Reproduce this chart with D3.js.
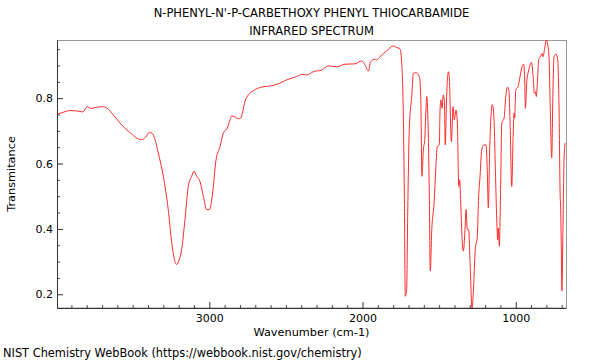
<!DOCTYPE html>
<html>
<head>
<meta charset="utf-8">
<script src="https://cdn.jsdelivr.net/npm/d3@7"></script>
<style>
  body { margin: 0; background: #fff; }
  svg { display: block; font-family: "DejaVu Sans", sans-serif; }
</style>
</head>
<body>
<div id="chart"></div>
<script>
const titleLines = ["N-PHENYL-N'-P-CARBETHOXY PHENYL THIOCARBAMIDE", 'INFRARED SPECTRUM'];
const xTicks = [3000, 2000, 1000];
const yTicks = [0.2, 0.4, 0.6, 0.8];

// wavenumber (cm-1) and transmittance
const wavenumber = [
  3992, 3953, 3909, 3866, 3826, 3796, 3774, 3735, 3702, 3666, 3627, 3583, 3544, 3513, 3474,
  3441, 3415, 3392, 3374, 3354, 3333, 3300, 3268, 3245, 3230, 3213, 3196, 3180, 3159, 3137,
  3115, 3100, 3082, 3061, 3039, 3017, 3000, 2978, 2956, 2930, 2909, 2883, 2865, 2854, 2832,
  2811, 2795, 2782, 2767, 2745, 2713, 2658, 2593, 2539, 2495, 2430, 2397, 2364, 2321, 2266,
  2223, 2168, 2114, 2049, 2005, 1984, 1962, 1947, 1925, 1907, 1886, 1842, 1799, 1781, 1755,
  1744, 1734, 1727, 1721, 1712, 1705, 1695, 1679, 1668, 1651, 1629, 1620, 1612, 1603, 1594,
  1586, 1581, 1573, 1564, 1558, 1548, 1533, 1520, 1512, 1499, 1494, 1488, 1481, 1473, 1466,
  1460, 1451, 1440, 1434, 1420, 1409, 1401, 1390, 1381, 1372, 1366, 1359, 1351, 1342, 1331,
  1324, 1316, 1307, 1298, 1285, 1277, 1264, 1251, 1242, 1233, 1222, 1207, 1194, 1186, 1179,
  1170, 1163, 1153, 1142, 1133, 1124, 1118, 1114, 1107, 1098, 1091, 1076, 1065, 1054, 1045,
  1037, 1026, 1017, 1011, 1007, 1000, 985, 972, 959, 948, 941, 937, 928, 915, 898,
  885, 879, 872, 866, 859, 850, 837, 828, 822, 811, 800, 791, 783, 774, 765,
  758, 750, 737, 726, 717, 710, 708, 703, 699, 692, 684, 677
];
const transmittance = [
  0.751, 0.757, 0.762, 0.761, 0.758, 0.774, 0.769, 0.772, 0.774, 0.769, 0.749, 0.724, 0.705, 0.693, 0.678,
  0.673, 0.681, 0.695, 0.693, 0.673, 0.632, 0.561, 0.459, 0.357, 0.312, 0.291, 0.306, 0.337, 0.428, 0.530,
  0.561, 0.577, 0.561, 0.545, 0.500, 0.459, 0.459, 0.510, 0.612, 0.652, 0.693, 0.708, 0.734, 0.746, 0.742,
  0.737, 0.739, 0.759, 0.790, 0.810, 0.823, 0.834, 0.838, 0.846, 0.856, 0.866, 0.873, 0.871, 0.881, 0.886,
  0.899, 0.896, 0.904, 0.905, 0.914, 0.902, 0.883, 0.912, 0.919, 0.917, 0.927, 0.945, 0.960, 0.956, 0.950,
  0.907, 0.754, 0.500, 0.194, 0.215, 0.449, 0.703, 0.805, 0.876, 0.878, 0.866, 0.805, 0.561, 0.642, 0.673,
  0.764, 0.805, 0.734, 0.500, 0.271, 0.398, 0.479, 0.602, 0.652, 0.657, 0.764, 0.795, 0.769, 0.810, 0.795,
  0.657, 0.805, 0.881, 0.866, 0.667, 0.774, 0.734, 0.764, 0.724, 0.530, 0.550, 0.479, 0.377, 0.332, 0.398,
  0.459, 0.398, 0.398, 0.296, 0.155, 0.205, 0.337, 0.377, 0.500, 0.561, 0.642, 0.657, 0.657, 0.581, 0.464,
  0.642, 0.734, 0.780, 0.739, 0.581, 0.428, 0.367, 0.403, 0.347, 0.550, 0.724, 0.739, 0.805, 0.834, 0.825,
  0.724, 0.530, 0.683, 0.754, 0.739, 0.825, 0.835, 0.866, 0.896, 0.904, 0.846, 0.769, 0.851, 0.886, 0.909,
  0.856, 0.815, 0.820, 0.805, 0.846, 0.917, 0.929, 0.937, 0.927, 0.953, 0.978, 0.963, 0.927, 0.754, 0.617,
  0.805, 0.927, 0.935, 0.917, 0.754, 0.500, 0.479, 0.357, 0.210, 0.398, 0.622, 0.663
];

const width = 600;
const height = 360;
const margin = { top: 40, right: 34, bottom: 52, left: 57 };

const svg = d3.select('#chart')
  .append('svg')
  .attr('width', width)
  .attr('height', height);

const xScale = d3.scaleLinear()
  .domain([3994, 672])
  .range([margin.left, width - margin.right]);

const yScale = d3.scaleLinear()
  .domain([0.158, 0.978])
  .range([height - margin.bottom, margin.top]);

svg.append('defs').append('clipPath')
  .attr('id', 'plot-clip')
  .append('rect')
  .attr('x', margin.left)
  .attr('y', margin.top)
  .attr('width', width - margin.left - margin.right)
  .attr('height', height - margin.top - margin.bottom);

// frame
svg.append('rect')
  .attr('x', margin.left + 0.5)
  .attr('y', margin.top + 0.5)
  .attr('width', width - margin.left - margin.right)
  .attr('height', height - margin.top - margin.bottom - 0.5)
  .attr('fill', 'none')
  .attr('stroke', '#999');

// minor ticks
const xMinor = d3.range(700, 4000, 100).filter(d => !xTicks.includes(d));
const yMinor = d3.range(0.2, 0.98, 0.05).map(d => +d.toFixed(2)).filter(d => !yTicks.includes(d));

svg.append('g')
  .attr('class', 'x-minor')
  .attr('transform', `translate(0, ${height - margin.bottom})`)
  .call(d3.axisBottom(xScale).tickValues(xMinor).tickSize(-3).tickFormat(''))
  .call(g => g.select('.domain').remove());

svg.append('g')
  .attr('class', 'y-minor')
  .attr('transform', `translate(${margin.left}, 0)`)
  .call(d3.axisLeft(yScale).tickValues(yMinor).tickSize(-3).tickFormat(''))
  .call(g => g.select('.domain').remove());

const xAxis = d3.axisBottom(xScale).tickValues(xTicks).tickSizeInner(-6).tickSizeOuter(0).tickPadding(6).tickFormat(d3.format('d'));
const yAxis = d3.axisLeft(yScale).tickValues(yTicks).tickSizeInner(-6).tickSizeOuter(0).tickPadding(4).tickFormat(d3.format('.1f'));

svg.append('g')
  .attr('id', 'x-axis')
  .attr('transform', `translate(0, ${height - margin.bottom})`)
  .call(xAxis);

svg.append('g')
  .attr('id', 'y-axis')
  .attr('transform', `translate(${margin.left}, 0)`)
  .call(yAxis);

svg.selectAll('.tick line, .domain').attr('stroke', '#333');
svg.selectAll('.x-minor .tick line, .y-minor .tick line').attr('stroke', '#444');
svg.selectAll('#x-axis text, #y-axis text')
  .attr('font-size', 11)
  .attr('font-family', '"DejaVu Sans", sans-serif')
  .attr('fill', '#000');

const points = wavenumber.map((w, i) => [w, transmittance[i]]);

svg.append('path')
  .datum(points)
  .attr('clip-path', 'url(#plot-clip)')
  .attr('fill', 'none')
  .attr('stroke', '#ff2a2a')
  .attr('stroke-width', 1)
  .attr('d', d3.line()
    .x(d => xScale(d[0]))
    .y(d => yScale(d[1]))
    .curve(d3.curveMonotoneX));

// titles
svg.selectAll('.title')
  .data(titleLines)
  .enter()
  .append('text')
  .attr('class', 'title')
  .attr('x', (margin.left + width - margin.right) / 2)
  .attr('y', (d, i) => 16.5 + i * 18)
  .attr('text-anchor', 'middle')
  .attr('font-size', 11.5)
  .text(d => d);

svg.append('text')
  .attr('x', (margin.left + width - margin.right) / 2)
  .attr('y', 336)
  .attr('text-anchor', 'middle')
  .attr('font-size', 11.3)
  .text('Wavenumber (cm-1)');

svg.append('text')
  .attr('transform', `translate(15, ${(margin.top + height - margin.bottom) / 2}) rotate(-90)`)
  .attr('text-anchor', 'middle')
  .attr('font-size', 11.3)
  .text('Transmitance');

svg.append('text')
  .attr('x', 3)
  .attr('y', 357)
  .attr('font-size', 11.4)
  .text('NIST Chemistry WebBook (https://webbook.nist.gov/chemistry)');
</script>
</body>
</html>
